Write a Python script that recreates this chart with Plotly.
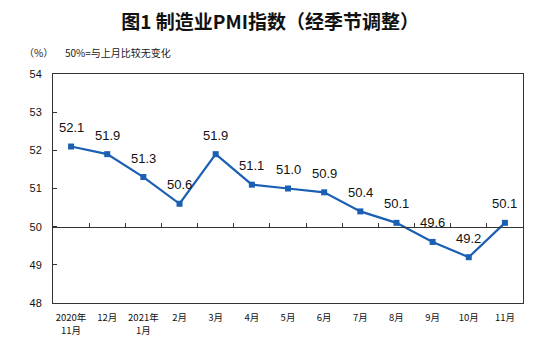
import plotly.graph_objects as go

categories = ["2020年<br>11月", "12月", "2021年<br>1月", "2月", "3月", "4月", "5月",
              "6月", "7月", "8月", "9月", "10月", "11月"]
pmi = [52.1, 51.9, 51.3, 50.6, 51.9, 51.1, 51.0, 50.9, 50.4, 50.1, 49.6, 49.2, 50.1]
y_ticks = [48, 49, 50, 51, 52, 53, 54]

line_color = "#1b5fb4"
cjk = "Noto Sans CJK SC"

fig = go.Figure()
fig.add_trace(go.Scatter(
    x=categories, y=pmi, mode="lines+markers",
    line=dict(color=line_color, width=2.2),
    marker=dict(symbol="square", size=6, color=line_color),
    xaxis="x", yaxis="y", showlegend=False, hoverinfo="skip",
))

for c, v in zip(categories, pmi):
    fig.add_annotation(x=c, y=v, xref="x", yref="y", text=f"{v:.1f}",
                       showarrow=False, yshift=19,
                       font=dict(family="Liberation Sans, Arial", size=13, color="#111"))

fig.update_layout(
    width=548, height=351,
    margin=dict(l=53, r=25, t=74, b=48),
    paper_bgcolor="white", plot_bgcolor="white",
    title=dict(text="<b>图1 制造业PMI指数（经季节调整）</b>", xref="container", x=0.493,
               y=1 - 22 / 351, yref="container", xanchor="center", yanchor="middle",
               font=dict(family=cjk, size=19, color="#111")),
    xaxis=dict(type="category", showline=True, linecolor="#333", linewidth=1, mirror=True,
               ticks="", showgrid=False, zeroline=False,
               tickfont=dict(family=cjk, size=9.5, color="#111"), ticklabelstandoff=6,
               range=[-0.5, len(categories) - 0.5]),
    xaxis2=dict(type="category", overlaying="x", anchor="free", position=(50 - 48) / (54 - 48),
                side="bottom", showline=True, linecolor="#333", linewidth=1,
                ticks="inside", ticklen=4, tickwidth=1, tickcolor="#333", tickson="boundaries",
                showticklabels=False, showgrid=False, matches="x",
                range=[-0.5, len(categories) - 0.5]),
    yaxis=dict(range=[48, 54], tickvals=y_ticks, showline=True, linecolor="#333", linewidth=1,
               mirror=True, ticks="inside", ticklen=4, tickcolor="#333", showgrid=False,
               zeroline=False, tickfont=dict(family="Liberation Sans, Arial", size=11, color="#111"),
               ticklabelstandoff=8),
)

# invisible trace so the crossing axis at 50 is drawn
fig.add_trace(go.Scatter(x=categories, y=pmi, xaxis="x2", yaxis="y", mode="none",
                         showlegend=False, hoverinfo="skip"))

fig.add_annotation(text="（%）", xref="paper", yref="paper", x=(38 - 53) / 470, y=1 + 22 / 229,
                   xanchor="center", yanchor="middle", showarrow=False,
                   font=dict(family=cjk, size=10, color="#222"))
fig.add_annotation(text="50%=与上月比较无变化", xref="paper", yref="paper",
                   x=(63 - 53) / 470, y=1 + 22 / 229, xanchor="left", yanchor="middle",
                   showarrow=False, font=dict(family=cjk, size=10, color="#222"))

fig.write_html("out.html")
